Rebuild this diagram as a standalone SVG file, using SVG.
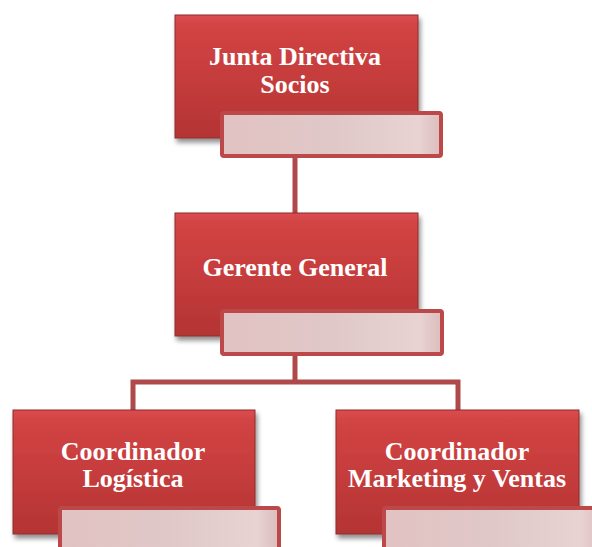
<svg xmlns="http://www.w3.org/2000/svg" width="592" height="547" viewBox="0 0 592 547">
<defs>
<linearGradient id="boxg" x1="0" y1="0" x2="0" y2="1">
<stop offset="0" stop-color="#dc4c50"/>
<stop offset="0.08" stop-color="#d24444"/>
<stop offset="0.5" stop-color="#c63c3c"/>
<stop offset="1" stop-color="#b43434"/>
</linearGradient>
<linearGradient id="subg" x1="0" y1="0" x2="1" y2="0">
<stop offset="0" stop-color="#e2c2c2"/>
<stop offset="0.5" stop-color="#e0c8c8"/>
<stop offset="0.9" stop-color="#e8d2d2"/>
<stop offset="1" stop-color="#dcbcbc"/>
</linearGradient>
<filter id="sh" x="-10%" y="-10%" width="125%" height="130%">
<feGaussianBlur in="SourceAlpha" stdDeviation="2.5"/>
<feOffset dx="2" dy="4" result="b"/>
<feComponentTransfer><feFuncA type="linear" slope="0.45"/></feComponentTransfer>
<feMerge><feMergeNode/><feMergeNode in="SourceGraphic"/></feMerge>
</filter>
</defs>
<style>
.box{fill:url(#boxg);stroke:#8e2c2c;stroke-width:1;filter:url(#sh)}
.sub{fill:url(#subg);stroke:#bc484a;stroke-width:4}
.conn{fill:none;stroke:#b04a4a;stroke-width:5}
.t{font-family:"Liberation Serif","Times New Roman",serif;font-weight:bold;font-size:26px;fill:#ffffff;text-anchor:middle}
</style>
<g id="connectors">
<line class="conn" x1="295" y1="157" x2="295" y2="213"/>
<polyline class="conn" points="295,355 295,382"/>
<polyline class="conn" points="133,410 133,382 458,382 458,410"/>
</g>
<g id="junta">
<rect class="box" x="175" y="15" width="243" height="123"/>
<rect class="sub" x="222" y="113" width="219" height="43" rx="2"/>
<text class="t" x="295" y="65">Junta Directiva</text>
<text class="t" x="295" y="93">Socios</text>
</g>
<g id="gerente">
<rect class="box" x="175" y="213" width="243" height="123"/>
<rect class="sub" x="222" y="311" width="220" height="43" rx="2"/>
<text class="t" x="295" y="276">Gerente General</text>
</g>
<g id="logistica">
<rect class="box" x="13" y="410" width="242" height="124"/>
<rect class="sub" x="60" y="508" width="219" height="43" rx="2"/>
<text class="t" x="133" y="460">Coordinador</text>
<text class="t" x="133" y="487">Logística</text>
</g>
<g id="marketing">
<rect class="box" x="336" y="410" width="243" height="124"/>
<rect class="sub" x="384" y="508" width="219" height="43" rx="2"/>
<text class="t" x="457" y="460">Coordinador</text>
<text class="t" x="457" y="487">Marketing y Ventas</text>
</g>
</svg>
